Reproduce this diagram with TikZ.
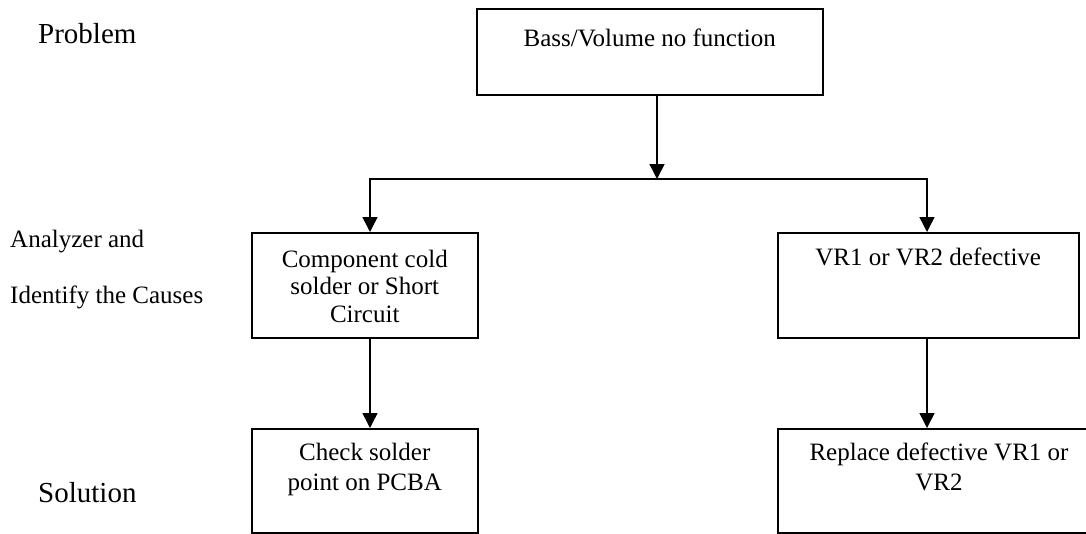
\documentclass[tikz,border=0pt]{standalone}
\usepackage{fontspec}
\setmainfont{Liberation Serif}
\usetikzlibrary{arrows.meta,calc}
\begin{document}
\begin{tikzpicture}[x=1pt,y=-1pt,
  box/.style={draw, line width=1.5pt, inner sep=0pt, anchor=north west},
  txt/.style={font=\fontsize{25}{30}\selectfont, align=center, inner sep=0pt, anchor=base},
  side/.style={font=\fontsize{25}{30}\selectfont, inner sep=0pt, anchor=base west},
  big/.style={font=\fontsize{29}{34}\selectfont, inner sep=0pt, anchor=base west},
  arr/.style={line width=1.5pt, -{Triangle[width=15pt,length=15pt]}}]
\useasboundingbox (0,0) rectangle (1086,533);
\fill[white] (0,0) rectangle (1086,533);
% boxes
\node[box, minimum width=346pt, minimum height=86pt] (p) at (476,8) {};
\node[box, minimum width=226pt, minimum height=105pt] (c1) at (251,232) {};
\node[box, minimum width=301pt, minimum height=105pt] (c2) at (777,232) {};
\node[box, minimum width=226pt, minimum height=104pt] (s1) at (251,428) {};
\node[box, minimum width=326pt, minimum height=104pt] (s2) at (777,428) {};
% box texts (anchor=base is the baseline of the last line)
\node[txt] (pt) at ($(p.north)+(0,38)$) {Bass/Volume no function};
\node[txt, font=\fontsize{25}{27.5}\selectfont] (c1t) at ($(c1.north)+(0,90)$) {Component cold\\solder or Short\\Circuit};
\node[txt] (c2t) at ($(c2.north)+(0,33)$) {VR1 or VR2 defective};
\node[txt] (s1t) at ($(s1.north)+(0,62)$) {Check solder\\point on PCBA};
\node[txt] (s2t) at (939,490) {Replace defective VR1 or\\VR2};
% side labels
\node[big] (lp) at (38,43) {Problem};
\node[side] (la1) at (10,247) {Analyzer and};
\node[side] (la2) at (10,303) {Identify the Causes};
\node[big] (ls) at (38,502) {Solution};
% connectors
\coordinate (j) at (657,179);
\coordinate (jl) at (370,179);
\coordinate (jr) at (927,179);
\draw[arr] (p.south -| j) -- (j);
\draw[arr] (j) -| (jl |- c1.north);
\draw[arr] (j) -| (jr |- c2.north);
\draw[arr] (jl |- c1.south) -- (jl |- s1.north);
\draw[arr] (jr |- c2.south) -- (jr |- s2.north);
\end{tikzpicture}
\end{document}
